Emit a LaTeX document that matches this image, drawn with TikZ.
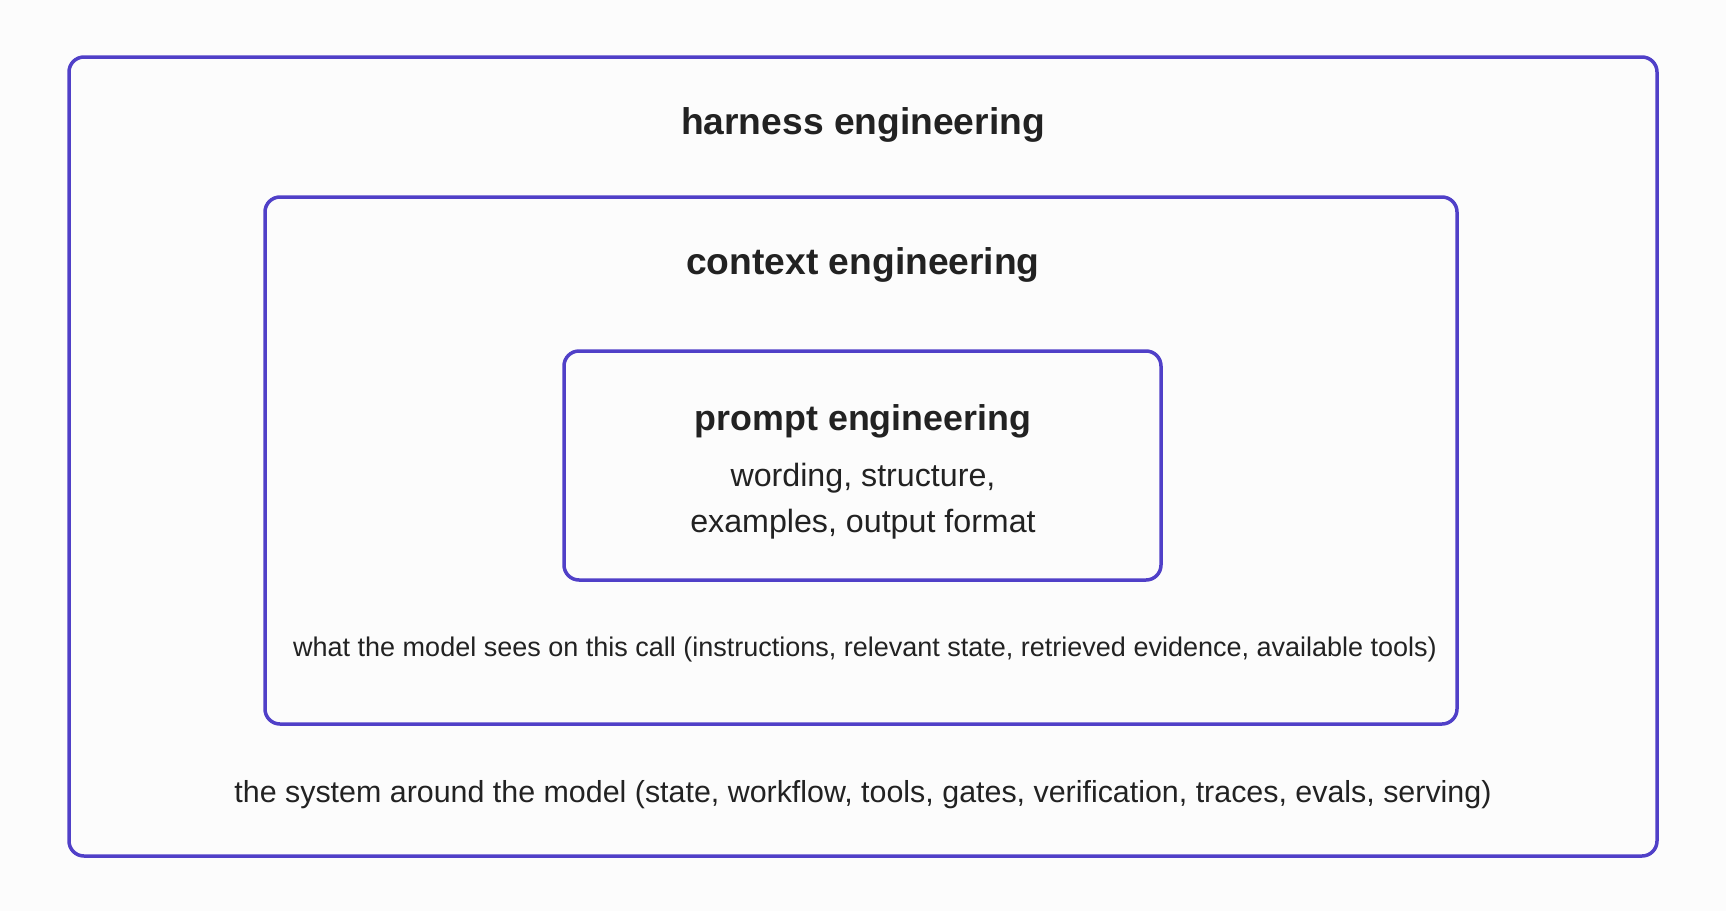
\documentclass[tikz,border=0pt]{standalone}
\usepackage{fontspec}
\setmainfont{Liberation Sans}
\usepackage{tikz}
\usetikzlibrary{calc}
\definecolor{frameblue}{HTML}{5040C8}
\definecolor{inkgray}{HTML}{222222}
\definecolor{paper}{HTML}{FCFCFC}

\begin{document}
\begin{tikzpicture}[x=0.5pt, y=-0.5pt]
        \tikzset{layer/.style={draw=frameblue, line width=1.75pt, rounded corners=7.5pt},
                 label/.style={anchor=base, inner sep=0pt, text=inkgray},
                 heading/.style={label, font=\fontsize{18.6}{22}\selectfont\bfseries}}

        \fill[paper] (0, 0) rectangle (1726, 911);

        \coordinate (H1) at (69, 57);
        \coordinate (H2) at (1657, 856);
        \coordinate (C1) at (265, 197);
        \coordinate (C2) at (1457, 724);
        \coordinate (P1) at (564, 351);
        \coordinate (P2) at (1161, 580);

        \draw[layer] (H1) rectangle (H2);
        \draw[layer] (C1) rectangle (C2);
        \draw[layer] (P1) rectangle (P2);

        \node[heading] (harness) at (863, 134) {harness engineering};
        \node[heading] (context) at (863, 274) {context engineering};
        \node[heading, font=\fontsize{17.9}{22}\selectfont\bfseries] (prompt) at (863, 430) {prompt engineering};
        \node[label, font=\fontsize{16.1}{20}\selectfont] (wording) at (863, 486) {wording, structure,};
        \node[label, font=\fontsize{16.1}{20}\selectfont] (examples) at (863, 532) {examples, output format};
        \node[label, font=\fontsize{13.5}{16}\selectfont] (sees) at (865, 656)
            {what the model sees on this call (instructions, relevant state, retrieved evidence, available tools)};
        \node[label, font=\fontsize{15.2}{18}\selectfont] (system) at (863, 802)
            {the system around the model (state, workflow, tools, gates, verification, traces, evals, serving)};
\end{tikzpicture}
\end{document}
